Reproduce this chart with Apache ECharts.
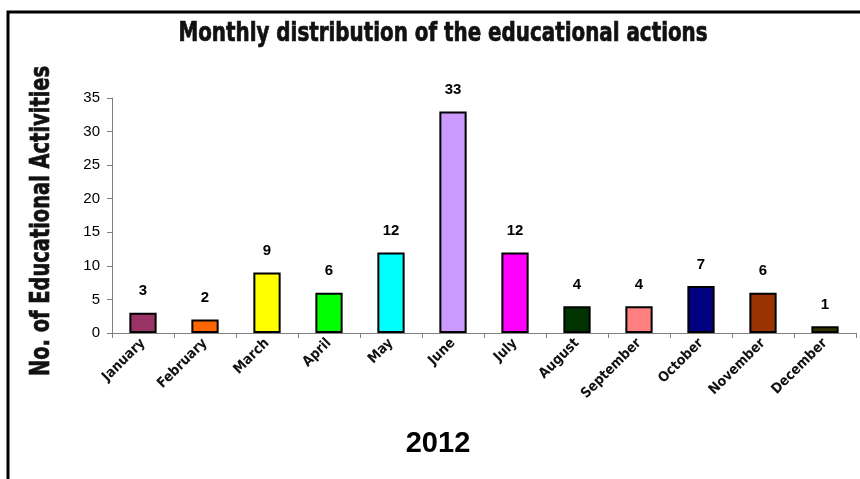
<!DOCTYPE html>
<html>
<head>
<meta charset="utf-8">
<script src="https://cdn.jsdelivr.net/npm/echarts@6/dist/echarts.min.js"></script>
<style>
  html, body { margin: 0; padding: 0; background: #fff; }
  #chart { width: 860px; height: 479px; }
</style>
</head>
<body>
<div id="chart"></div>
<script>
// Educational actions per month, 2012
const months = ['January', 'February', 'March', 'April', 'May', 'June',
                'July', 'August', 'September', 'October', 'November', 'December'];
const activities = [3, 2, 9, 6, 12, 33, 12, 4, 4, 7, 6, 1];
const barColors = ['#993366', '#FF6600', '#FFFF00', '#00FF00', '#00FFFF', '#CC99FF',
                   '#FF00FF', '#003300', '#FF8080', '#000080', '#993300', '#333300'];
const yTicks = { min: 0, max: 35, step: 5 };

const narrow = "'DejaVu Sans Condensed', 'DejaVu Sans', sans-serif";
const arial = "'Liberation Sans', Arial, sans-serif";

const chart = echarts.init(document.getElementById('chart'), null, { renderer: 'canvas' });

chart.setOption({
  animation: false,
  backgroundColor: '#ffffff',
  grid: { left: 112, right: 4, top: 98, bottom: 146, containLabel: false },
  graphic: [
    {
      // outer frame (top and left edges)
      type: 'polyline',
      shape: { points: [[8, 490], [8, 12], [870, 12]] },
      style: { stroke: '#000', lineWidth: 3, fill: null },
      silent: true
    },
    {
      // chart title, horizontally compressed
      type: 'text',
      x: 443, y: 34, scaleX: 0.85,
      style: {
        text: 'Monthly distribution of the educational actions',
        font: 'bold 26px ' + narrow, fill: '#111',
        stroke: '#111', lineWidth: 0.7,
        textAlign: 'center', textVerticalAlign: 'middle'
      }
    },
    {
      // value axis title, rotated and compressed
      type: 'text',
      x: 42, y: 221, rotation: Math.PI / 2, scaleX: 0.8,
      style: {
        text: 'No. of Educational Activities',
        font: 'bold 27px ' + narrow, fill: '#111',
        stroke: '#111', lineWidth: 0.7,
        textAlign: 'center', textVerticalAlign: 'middle'
      }
    },
    {
      type: 'text',
      x: 438, y: 444,
      style: {
        text: '2012', font: 'bold 29px ' + arial, fill: '#000',
        textAlign: 'center', textVerticalAlign: 'middle'
      }
    }
  ],
  xAxis: {
    type: 'category',
    data: months,
    axisLine: { lineStyle: { color: '#808080', width: 1 } },
    axisTick: { show: true, length: 5, lineStyle: { color: '#808080' } },
    axisLabel: {
      rotate: 45, interval: 0, margin: 8,
      fontFamily: narrow, fontWeight: 'bold', fontSize: 14, color: '#111'
    }
  },
  yAxis: {
    type: 'value',
    min: yTicks.min, max: yTicks.max, interval: yTicks.step,
    axisLine: { show: true, lineStyle: { color: '#808080', width: 1 } },
    axisTick: { show: true, length: 5, lineStyle: { color: '#808080' } },
    splitLine: { show: false },
    axisLabel: { fontFamily: arial, fontSize: 15, color: '#000', margin: 12 }
  },
  series: [{
    type: 'bar',
    data: activities.map((v, i) => ({ value: v, itemStyle: { color: barColors[i] } })),
    barWidth: '44%',
    itemStyle: { borderColor: '#000', borderWidth: 2 },
    label: {
      show: true, position: 'top', distance: 14,
      fontFamily: arial, fontWeight: 'bold', fontSize: 15, color: '#000'
    }
  }]
});
</script>
</body>
</html>
